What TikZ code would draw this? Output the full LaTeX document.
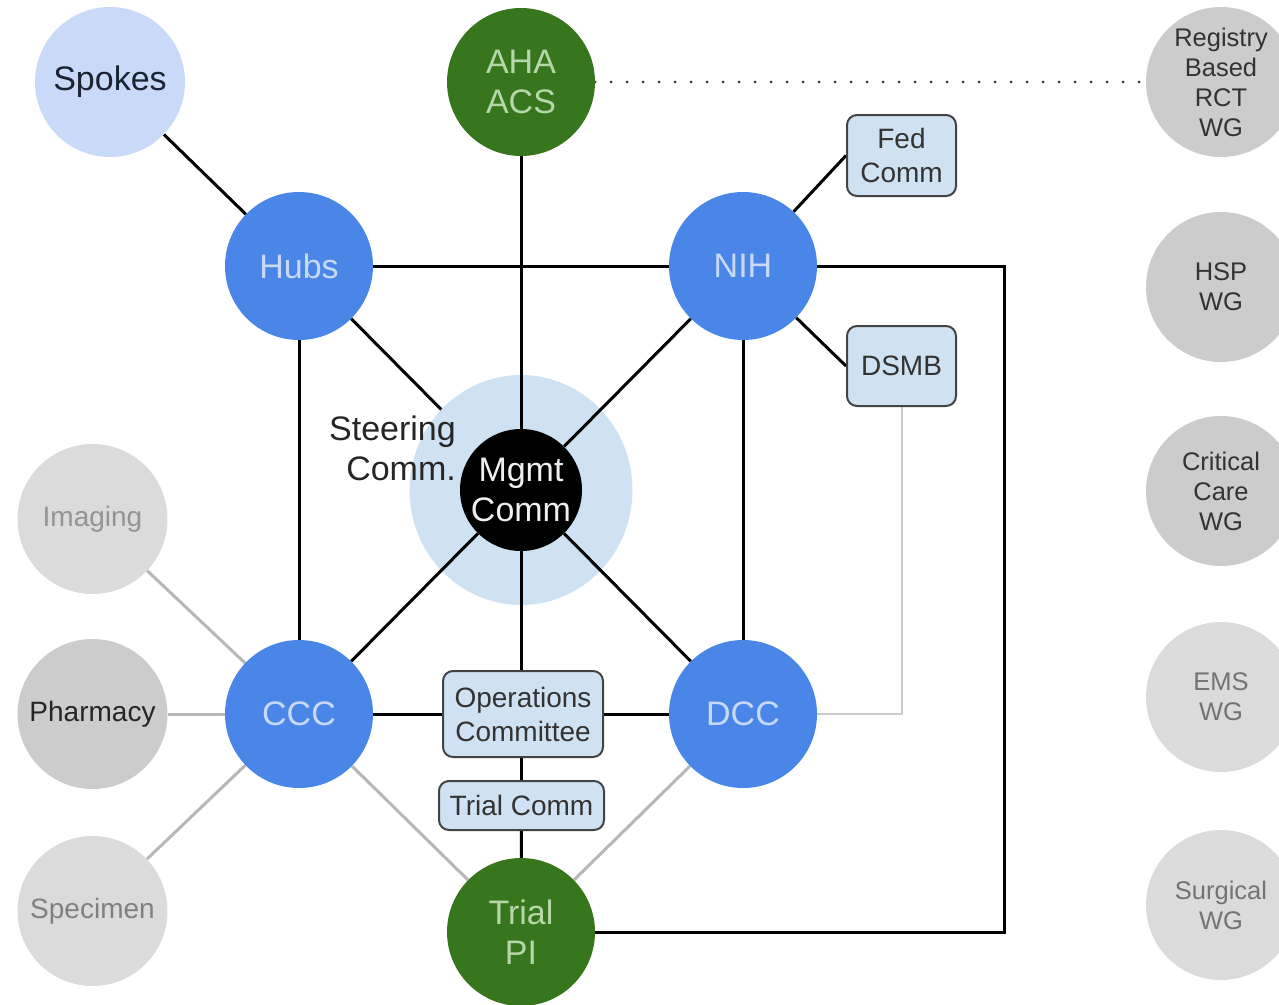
\documentclass[tikz,border=0pt]{standalone}
\usepackage{fontspec}
\setmainfont{Liberation Sans}
\usetikzlibrary{shapes.geometric}
\definecolor{hubblue}{HTML}{4A86E8}
\definecolor{lblue}{HTML}{C9DAF8}
\definecolor{lblue2}{HTML}{CFE2F3}
\definecolor{dgreen}{HTML}{38761D}
\definecolor{lgreen}{HTML}{B6D7A8}
\definecolor{gA}{HTML}{CCCCCC}
\definecolor{gB}{HTML}{DBDBDB}
\definecolor{lineg}{HTML}{B7B7B7}
\definecolor{lineg2}{HTML}{CCCCCC}
\definecolor{boxborder}{HTML}{434343}
\definecolor{navytext}{HTML}{1C2433}
\pgfdeclarelayer{lA}\pgfdeclarelayer{lB}\pgfdeclarelayer{lC}
\begin{document}
\begin{tikzpicture}[x=1pt,y=-1pt,
  bigfont/.style={font=\fontsize{34}{40}\selectfont},
  circ/.style={circle, inner sep=0pt, minimum size=148pt, align=center},
  core/.style={circ, fill=hubblue, text=lblue, bigfont},
  grn/.style={circ, fill=dgreen, text=lgreen, bigfont},
  wg/.style={circ, minimum size=150pt, fill=gA, text=black!80, font=\fontsize{25.5}{30}\selectfont},
  wgl/.style={wg, fill=gB, text=black!55},
  side/.style={circ, minimum size=150pt, font=\fontsize{28}{34}\selectfont},
  comm/.style={rectangle, rounded corners=10pt, draw=boxborder, line width=2pt, fill=lblue2,
    text=black!80, font=\fontsize{28}{34}\selectfont, align=center, inner sep=0pt},
  link/.style={line width=3pt, black},
  glink/.style={line width=3pt, lineg},
]
\pgfsetlayers{lA,lB,lC,main}
\useasboundingbox (0,0) rectangle (1279,1004);

% nodes
\node[circ, minimum size=150pt, fill=lblue, text=navytext, bigfont] (spokes) at (110,82) {Spokes};
\node[grn] (aha) at (521,82) {AHA\\ACS};
\node[wg] (reg) at (1221,82) {Registry\\Based\\RCT\\WG};
\node[comm, minimum width=109pt, minimum height=81pt] (fed) at (901.5,155.5) {Fed\\Comm};
\node[core] (hubs) at (299,266) {Hubs};
\node[core] (nih) at (743,266) {NIH};
\node[wg] (hsp) at (1221,287) {HSP\\WG};
\node[comm, minimum width=109pt, minimum height=80pt] (dsmb) at (901.5,366) {DSMB};
\begin{pgfonlayer}{lB}
\node[ellipse, fill=lblue2, minimum width=223pt, minimum height=230pt, inner sep=0pt] (steer) at (521,490) {};
\end{pgfonlayer}
\node[circ, minimum size=122pt, fill=black, text=black!6, bigfont] (mgmt) at (521,490) {Mgmt\\Comm};
\node[align=right, anchor=east, inner sep=0pt, text=black!85, bigfont] (steertext) at (456,448) {Steering\\Comm.};
\node[wg] (crit) at (1221,491) {Critical\\Care\\WG};
\node[side, fill=gB, text=black!42] (imaging) at (92.5,519) {Imaging};
\node[side, fill=gA, text=black!85] (pharm) at (92.5,714) {Pharmacy};
\node[side, fill=gB, text=black!50] (spec) at (92.5,911) {Specimen};
\node[core] (ccc) at (299,714) {CCC};
\node[core] (dcc) at (743,714) {DCC};
\node[comm, minimum width=160pt, minimum height=86pt] (ops) at (523,714) {Operations\\Committee};
\node[comm, minimum width=165pt, minimum height=49pt] (trialcomm) at (521.5,805.5) {Trial Comm};
\node[grn] (trialpi) at (521,932) {Trial\\PI};
\node[wgl] (ems) at (1221,697) {EMS\\WG};
\node[wgl] (surg) at (1221,905) {Surgical\\WG};
\coordinate (nihcorner) at (1004,266);
\coordinate (picorner) at (1004,932);
\coordinate (dsmbcorner) at (901.5,714);

% line under the steering circle
\begin{pgfonlayer}{lA}
\draw[link] (hubs) -- (mgmt);
\end{pgfonlayer}

% other lines
\begin{pgfonlayer}{lC}
\draw[link] (spokes) -- (hubs);
\draw[link] (aha) -- (mgmt);
\draw[line width=3pt, black!80, line cap=round, dash pattern=on 0pt off 16pt] (aha) -- (reg);
\draw[link] (hubs) -- (nih);
\draw[link] (nih) -- (fed.west);
\draw[link] (nih) -- (dsmb.west);
\draw[link] (nih) -- (mgmt);
\draw[link] (hubs) -- (ccc);
\draw[link] (nih) -- (dcc);
\draw[link] (mgmt) -- (ccc);
\draw[link] (mgmt) -- (dcc);
\draw[link] (mgmt) -- (mgmt |- ops.north);
\draw[link] (ccc) -- (ops);
\draw[link] (ops) -- (dcc);
\draw[link] (ops.south -| trialcomm) -- (trialcomm);
\draw[link] (trialcomm) -- (trialpi);
\draw[link] (nih) -- (nihcorner) -- (picorner) -- (trialpi);
\draw[line width=2pt, lineg2] (dsmb) -- (dsmbcorner) -- (dcc);
\draw[glink] (imaging) -- (ccc);
\draw[glink] (pharm) -- (ccc);
\draw[glink] (spec) -- (ccc);
\draw[glink] (ccc) -- (trialpi);
\draw[glink] (dcc) -- (trialpi);
\end{pgfonlayer}
\end{tikzpicture}
\end{document}
